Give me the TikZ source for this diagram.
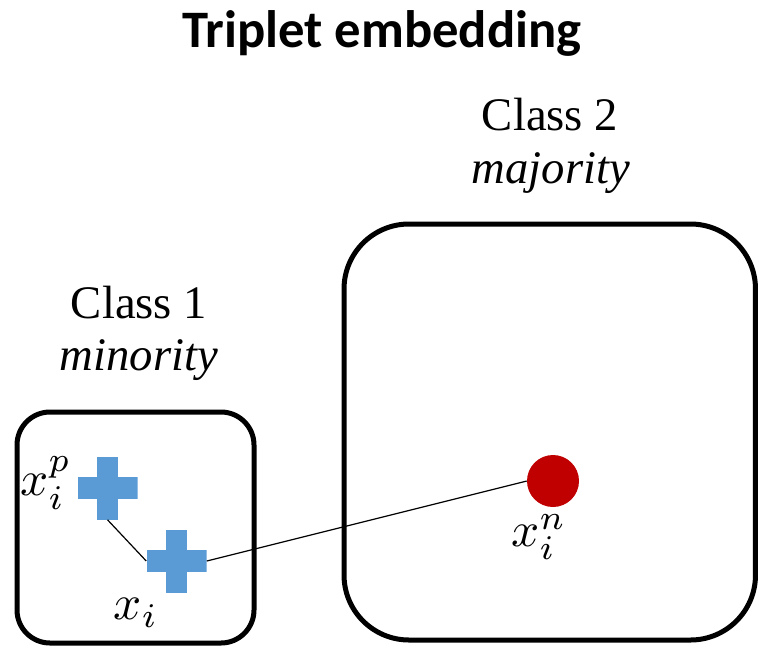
\documentclass[tikz,border=0pt]{standalone}
\usepackage{graphicx}
\usepackage{fontspec}
\setmainfont{Liberation Serif}
\newfontfamily\headfont{Carlito}
\definecolor{posblue}{HTML}{5B9BD5}
\definecolor{negred}{HTML}{C00000}
\newcommand{\biglabel}[1]{\scalebox{3.7}{$#1$}}
\tikzset{
  classbox/.style={draw=black, line width=3.75pt, inner sep=0pt},
  poscross/.style={minimum width=45pt, minimum height=47.25pt, inner sep=0pt,
    path picture={
      \fill[posblue] ([xshift=-7.9pt]path picture bounding box.north) rectangle ([xshift=7.9pt]path picture bounding box.south);
      \fill[posblue] ([yshift=7.9pt]path picture bounding box.west) rectangle ([yshift=-7.9pt]path picture bounding box.east);
    }},
  negdot/.style={circle, fill=negred, minimum size=39pt, inner sep=0pt},
  link/.style={draw=black, line width=0.9pt},
  classname/.style={anchor=base, font=\fontsize{35}{40}\selectfont, inner sep=0pt},
  classrole/.style={anchor=base, font=\fontsize{35}{40}\selectfont\itshape, inner sep=0pt},
  mathlabel/.style={inner sep=0pt},
}
\begin{document}
\begin{tikzpicture}[x=0.75pt, y=-0.75pt]
  \useasboundingbox (0,0) rectangle (759,650);

  % heading
  \node[anchor=base, inner sep=0pt, font=\headfont\bfseries\fontsize{39.5}{44}\selectfont] (title) at (382,47) {Triplet embedding};

  % class regions
  \node[classbox, rounded corners=24.75pt, minimum width=177.75pt, minimum height=173.25pt] (box1) at (135.5,527.5) {};
  \node[classbox, rounded corners=48.75pt, minimum width=308.6pt, minimum height=312pt] (box2) at (549.75,432) {};

  % class captions
  \node[classname] (c1name) at (139,318) {Class 1};
  \node[classrole] (c1role) at (139,370) {minority};
  \node[classname] (c2name) at (550,130) {Class 2};
  \node[classrole] (c2role) at (551,183) {majority};

  % samples
  \node[poscross] (pos) at (107.5,488) {};
  \node[poscross] (anc) at (176.5,561) {};
  \node[negdot] (neg) at (553,481) {};

  % links between samples
  \draw[link] (pos.south) -- (anc.west);
  \draw[link] (anc.east) -- (neg.west);

  % sample labels
  \node[mathlabel] (lpos) at (46,483) {\biglabel{x_i^p}};
  \node[mathlabel] (lanc) at (136,613) {\biglabel{x_i}};
  \node[mathlabel] (lneg) at (539,537) {\biglabel{x_i^n}};
\end{tikzpicture}
\end{document}
